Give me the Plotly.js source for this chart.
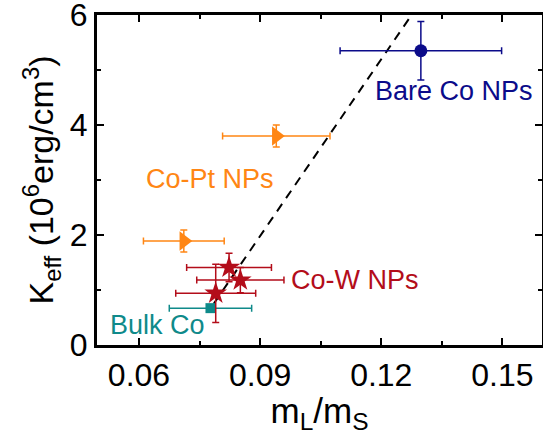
<!DOCTYPE html>
<html>
<head>
<meta charset="utf-8">
<script src="https://cdn.plot.ly/plotly-3.0.1.min.js"></script>
<style>html,body{margin:0;padding:0;background:#fff;}#chart{width:543px;height:435px;}</style>
</head>
<body>
<div id="chart"></div>
<script>
// Data
const bareX = [0.1298], bareY = [5.35], bareXErr = [0.020], bareYErr = [0.53];
const ptX = [0.0940, 0.0711], ptY = [3.80, 1.89], ptXErr = [0.0133, 0.0100], ptYErr = [0.20, 0.20];
const wX = [0.0823, 0.0851, 0.0790], wY = [1.41, 1.18, 0.94], wXErr = [0.0105, 0.0108, 0.0099], wYErr = [0.26, 0.23, 0.53];
const bulkX = [0.0777], bulkY = [0.67], bulkXErr = [0.0102];
const fitX = [0.0785, 0.1275], fitY = [0.75, 6.0];
const xTickVals = [0.06, 0.09, 0.12, 0.15], xTickText = ['0.06', '0.09', '0.12', '0.15'];
const yTickVals = [0, 2, 4, 6], yTickText = ['0', '2', '4', '6'];
const labels = ['Bare Co NPs', 'Co-Pt NPs', 'Co-W NPs', 'Bulk Co'];
const labelX = [0.1381, 0.0775, 0.1136, 0.0647], labelY = [4.62, 3.02, 1.18, 0.36];

const navy = '#0b0b8a', orange = '#ff8614', red = '#b30d1a', teal = '#0f8a8a';
const labelColors = [navy, orange, red, teal];
const FONT = 'Liberation Sans, Arial, Helvetica, sans-serif';

function eb(arr, color) {
  return {type: 'data', array: arr, visible: true, color: color, thickness: 1.5, width: 3.5};
}

const traces = [
  {x: fitX, y: fitY, mode: 'lines', line: {color: '#000', width: 2, dash: '9px,7px'}, hoverinfo: 'skip'},
  {x: bulkX, y: bulkY, mode: 'markers', marker: {symbol: 'square', size: 10, color: teal},
   error_x: eb(bulkXErr, teal)},
  {x: wX, y: wY, mode: 'markers', marker: {symbol: 'star', size: 17, color: red},
   error_x: eb(wXErr, red), error_y: eb(wYErr, red)},
  {x: ptX, y: ptY, mode: 'markers', marker: {symbol: 'triangle-right', size: 17, color: orange},
   error_x: eb(ptXErr, orange), error_y: eb(ptYErr, orange)},
  {x: bareX, y: bareY, mode: 'markers', marker: {symbol: 'circle', size: 13, color: navy},
   error_x: eb(bareXErr, navy), error_y: eb(bareYErr, navy)}
];

const annotations = labels.map((t, i) => ({
  x: labelX[i], y: labelY[i], xref: 'x', yref: 'y', text: t, showarrow: false,
  font: {family: FONT, size: 27, color: labelColors[i]}, xanchor: 'center', yanchor: 'middle'
}));

const axisCommon = {
  showline: true, linecolor: '#000', linewidth: 3, mirror: 'ticks',
  ticks: 'inside', ticklen: 7, tickwidth: 2, tickcolor: '#000',
  showgrid: false, zeroline: false, ticklabeloverflow: 'allow',
  tickfont: {family: FONT, size: 32, color: '#000'}
};

const layout = {
  width: 543, height: 435,
  margin: {l: 97, r: 1, t: 15, b: 90},
  paper_bgcolor: '#fff', plot_bgcolor: '#fff',
  showlegend: false,
  font: {family: FONT, color: '#000'},
  xaxis: Object.assign({}, axisCommon, {
    range: [0.0496, 0.1598], tickmode: 'array', tickvals: xTickVals, ticktext: xTickText,
    minor: {dtick: 0.015, tick0: 0.06, ticks: 'inside', ticklen: 4, tickwidth: 2, tickcolor: '#000'},
    title: {text: 'm<sub>L</sub>/m<sub>S</sub>', font: {family: FONT, size: 35, color: '#000'}, standoff: 2}
  }),
  yaxis: Object.assign({}, axisCommon, {
    range: [0, 6], tickmode: 'array', tickvals: yTickVals, ticktext: yTickText,
    minor: {dtick: 1, tick0: 0, ticks: 'inside', ticklen: 4, tickwidth: 2, tickcolor: '#000'},
    title: {text: 'K<sub>eff</sub> (10<sup>6</sup>erg/cm<sup>3</sup>)', font: {family: FONT, size: 34, color: '#000'}, standoff: 6}
  }),
  annotations: annotations
};

Plotly.newPlot('chart', traces, layout, {staticPlot: true, displayModeBar: false});
</script>
</body>
</html>
